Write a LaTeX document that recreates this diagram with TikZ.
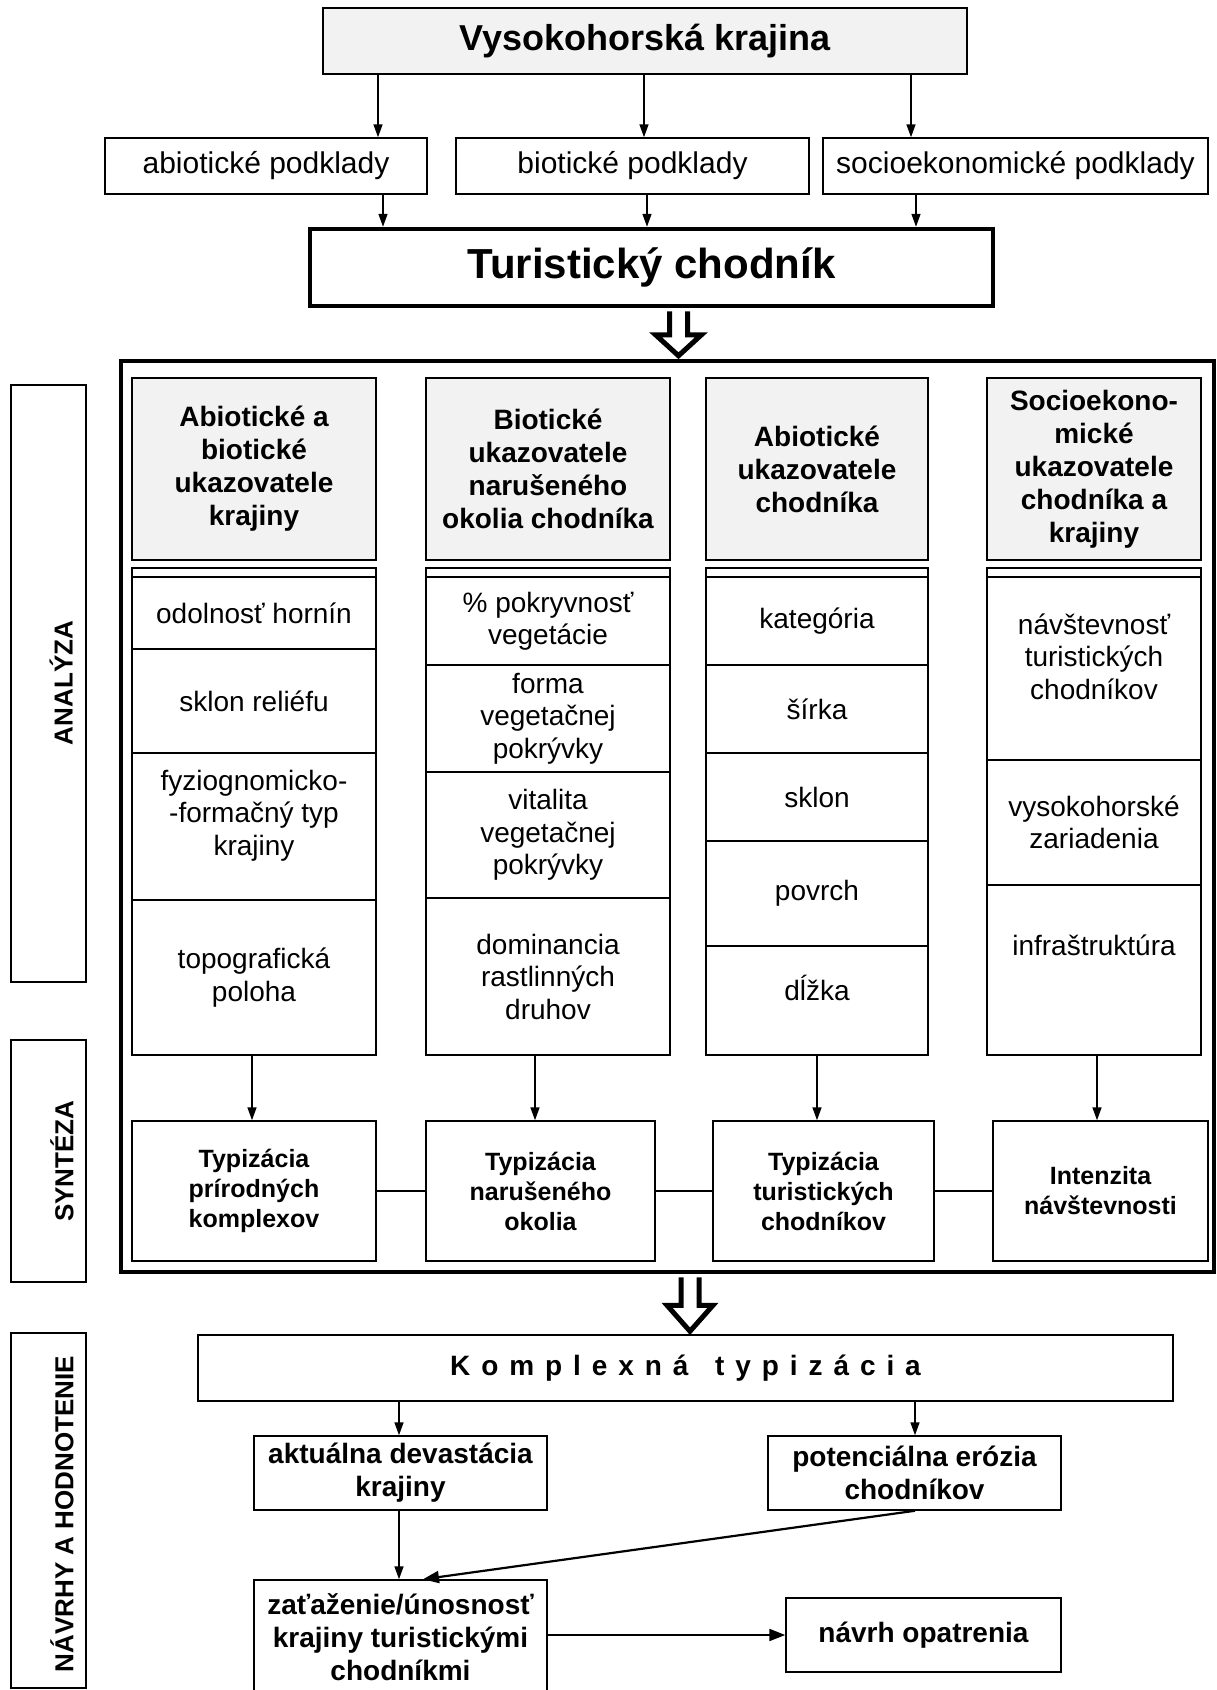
\documentclass[tikz,border=0pt]{standalone}
\usepackage{fontspec}
\setmainfont{Liberation Sans}
\newfontfamily\spacedfont[LetterSpace=39]{Liberation Sans}
\usetikzlibrary{arrows.meta,calc}
\definecolor{headgray}{HTML}{F2F2F2}

% hollow block arrow: start point, tip point, head length
\newcommand{\hollowarrow}[3]{%
  \draw[hollow] ($(#1)+(-9,0)$) -- ($(#2)+(-9,-#3)$) -- ($(#2)+(-23,-#3)$) -- (#2)
    -- ($(#2)+(23,-#3)$) -- ($(#2)+(9,-#3)$) -- ($(#1)+(9,0)$);}

\begin{document}
\begin{tikzpicture}[x=1pt, y=-1pt,
    box/.style={draw, line width=1.5pt, align=center, inner sep=2pt},
    topbox/.style={box, fill=headgray, font=\fontsize{36}{41}\selectfont\bfseries},
    podbox/.style={box, font=\fontsize{30}{34}\selectfont},
    mainbox/.style={box, line width=4.5pt, font=\fontsize{42}{48}\selectfont\bfseries},
    headbox/.style={box, fill=headgray, font=\fontsize{28}{33}\selectfont\bfseries},
    cell/.style={box, font=\fontsize{28}{32.5}\selectfont},
    synbox/.style={box, font=\fontsize{25}{30}\selectfont\bfseries},
    evalbox/.style={box, font=\fontsize{28}{33}\selectfont\bfseries},
    sidebox/.style={box, line width=1.3pt},
    sidetext/.style={rotate=90, font=\fontsize{26}{30}\selectfont\bfseries},
    arr/.style={line width=1.5pt, -{Triangle[length=13pt,width=9pt]}},
    bigarr/.style={line width=2.2pt, -{Triangle[length=16pt,width=12pt]}},
    hollow/.style={line width=5pt, fill=white, line join=miter}]

    \useasboundingbox (0,0) rectangle (1216,1690);

    % --- top: landscape and inputs ---
    \node[topbox, minimum width=644, minimum height=66] (land) at (645,41) {Vysokohorská krajina};

    \node[podbox, minimum width=322, minimum height=56] (pA) at (266,166) {abiotické podklady};
    \node[podbox, minimum width=353, minimum height=56] (pB) at (632.5,166) {biotické podklady};
    \node[podbox, minimum width=385, minimum height=56] (pS) at (1015.5,166) {socioekonomické podklady};

    \draw[arr] (378,0 |- land.south) -- (378,0 |- pA.north);
    \draw[arr] (644,0 |- land.south) -- (644,0 |- pB.north);
    \draw[arr] (911,0 |- land.south) -- (911,0 |- pS.north);

    \node[mainbox, minimum width=683, minimum height=77] (trail) at (651.5,267.5) {Turistický chodník};

    \draw[arr] (383,0 |- pA.south) -- (383,0 |- trail.north);
    \draw[arr] (647,0 |- pB.south) -- (647,0 |- trail.north);
    \draw[arr] (916,0 |- pS.south) -- (916,0 |- trail.north);

    % --- big frame: analysis and synthesis ---
    \node[box, line width=4.5pt, minimum width=1093, minimum height=911] (frame) at (667.5,816.5) {};

    \coordinate (ha1) at ($(678.5,0 |- trail.south)+(0,3)$);
    \coordinate (hb1) at ($(678.5,0 |- frame.north)+(0,-3)$);
    \hollowarrow{ha1}{hb1}{21}

    % side labels
    \node[sidebox, minimum width=75, minimum height=597] (sAn) at (48.5,683.5) {};
    \node[sidetext] (tAn) at (61,683) {ANALÝZA};
    \node[sidebox, minimum width=75, minimum height=242] (sSy) at (48.5,1161) {};
    \node[sidetext] (tSy) at (62,1161) {SYNTÉZA};
    \node[sidebox, minimum width=75, minimum height=355] (sNa) at (48.5,1510.5) {};
    \node[sidetext] (tNa) at (62,1514) {NÁVRHY A HODNOTENIE};

    % column heads
    \node[headbox, minimum width=244, minimum height=182] (h1) at (254,469) {Abiotické a\\biotické\\ukazovatele\\krajiny};
    \node[headbox, minimum width=244, minimum height=182] (h2) at (548,469) {Biotické\\ukazovatele\\narušeného\\okolia chodníka};
    \node[headbox, minimum width=222, minimum height=182] (h3) at (817,469) {Abiotické\\ukazovatele\\chodníka};
    \node[headbox, minimum width=214, minimum height=182] (h4) at (1094,469) {Socioekono-\\mické\\ukazovatele\\chodníka a\\krajiny};

    % column bodies (outer box, then cells)
    \node[box, minimum width=244, minimum height=487] (col1) at (254,811.5) {};
    \node[box, minimum width=244, minimum height=487] (col2) at (548,811.5) {};
    \node[box, minimum width=222, minimum height=487] (col3) at (817,811.5) {};
    \node[box, minimum width=214, minimum height=487] (col4) at (1094,811.5) {};

    \node[cell, minimum width=244, minimum height=72] (c11) at (254,613) {odolnosť hornín};
    \node[cell, minimum width=244, minimum height=104] (c12) at (254,701) {sklon reliéfu};
    \node[cell, minimum width=244, minimum height=147, text depth=28] (c13) at (254,826.5) {fyziognomicko-\\-formačný typ\\krajiny};
    \node[cell, minimum width=244, minimum height=155] (c14) at (254,977.5) {topografická\\poloha};

    \node[cell, minimum width=244, minimum height=88] (c21) at (548,621) {\% pokryvnosť\\vegetácie};
    \node[cell, minimum width=244, minimum height=107] (c22) at (548,718.5) {forma\\vegetačnej\\pokrývky};
    \node[cell, minimum width=244, minimum height=126] (c23) at (548,835) {vitalita\\vegetačnej\\pokrývky};
    \node[cell, minimum width=244, minimum height=157] (c24) at (548,976.5) {dominancia\\rastlinných\\druhov};

    \node[cell, minimum width=222, minimum height=88] (c31) at (817,621) {kategória};
    \node[cell, minimum width=222, minimum height=88] (c32) at (817,709) {šírka};
    \node[cell, minimum width=222, minimum height=88] (c33) at (817,797) {sklon};
    \node[cell, minimum width=222, minimum height=105] (c34) at (817,893.5) {povrch};
    \node[cell, minimum width=222, minimum height=109, text depth=26] (c35) at (817,1000.5) {dĺžka};

    \node[cell, minimum width=214, minimum height=183, text depth=24] (c41) at (1094,668.5) {návštevnosť\\turistických\\chodníkov};
    \node[cell, minimum width=214, minimum height=125] (c42) at (1094,822.5) {vysokohorské\\zariadenia};
    \node[cell, minimum width=214, minimum height=170, text depth=50] (c43) at (1094,970) {infraštruktúra};

    % synthesis
    \node[synbox, minimum width=244, minimum height=140] (s1) at (254,1191) {Typizácia\\prírodných\\komplexov};
    \node[synbox, minimum width=229, minimum height=140] (s2) at (540.5,1191) {Typizácia\\narušeného\\okolia};
    \node[synbox, minimum width=221, minimum height=140] (s3) at (823.5,1191) {Typizácia\\turistických\\chodníkov};
    \node[synbox, minimum width=215, minimum height=140] (s4) at (1100.5,1191) {Intenzita\\návštevnosti};

    \draw[arr] (252,0 |- col1.south) -- (252,0 |- s1.north);
    \draw[arr] (535,0 |- col2.south) -- (535,0 |- s2.north);
    \draw[arr] (817,0 |- col3.south) -- (817,0 |- s3.north);
    \draw[arr] (1097,0 |- col4.south) -- (1097,0 |- s4.north);

    \draw[line width=1.5pt] (s1) -- (s2);
    \draw[line width=1.5pt] (s2) -- (s3);
    \draw[line width=1.5pt] (s3) -- (s4);

    % --- proposals and evaluation ---
    \node[evalbox, minimum width=975, minimum height=66, font=\spacedfont\fontsize{28}{33}\selectfont\bfseries] (kt) at (685.5,1368) {Komplexná\hspace{8pt} typizácia};

    \coordinate (ha2) at ($(690,0 |- frame.south)+(0,3)$);
    \coordinate (hb2) at ($(690,0 |- kt.north)+(0,-3)$);
    \hollowarrow{ha2}{hb2}{26}

    \node[evalbox, minimum width=293, minimum height=74] (akt) at (400.5,1473) {aktuálna devastácia\\krajiny};
    \node[evalbox, minimum width=293, minimum height=74] (pot) at (914.5,1473) {potenciálna erózia\\chodníkov};
    \node[evalbox, minimum width=293, minimum height=115] (zat) at (400.5,1637.5) {zaťaženie/únosnosť\\krajiny turistickými\\chodníkmi};
    \node[evalbox, minimum width=275, minimum height=74] (nav) at (923.5,1635) {návrh opatrenia};

    \draw[arr] (399,0 |- kt.south) -- (399,0 |- akt.north);
    \draw[arr] (915,0 |- kt.south) -- (915,0 |- pot.north);
    \draw[arr] (399,0 |- akt.south) -- (399,0 |- zat.north);
    \draw[bigarr] (915,0 |- pot.south) -- (423,0 |- zat.north);
    \draw[bigarr] (zat.east |- nav) -- (nav.west);

\end{tikzpicture}
\end{document}
